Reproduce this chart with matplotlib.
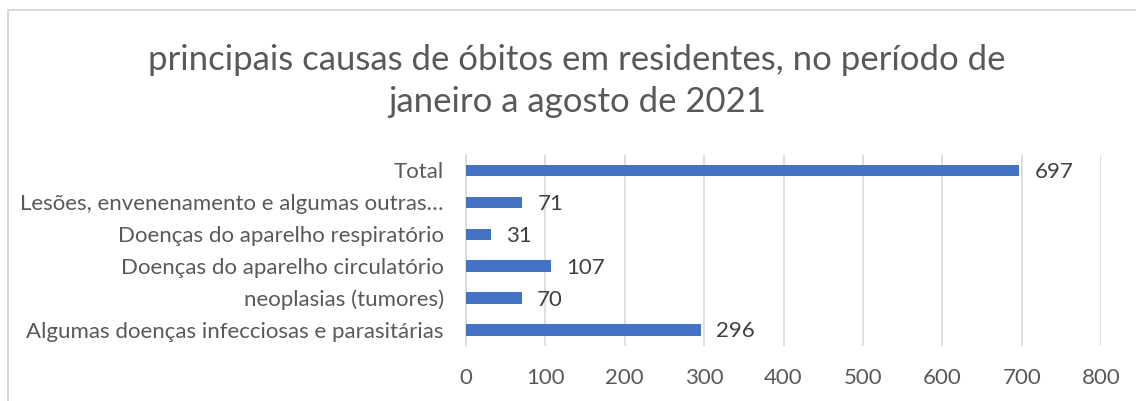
"""Principais causas de óbitos - barras horizontais."""

import matplotlib.pyplot as plt
from matplotlib.patches import Rectangle

# dados
categorias = [
    'Algumas doenças infecciosas e parasitárias',
    'neoplasias (tumores)',
    'Doenças do aparelho circulatório',
    'Doenças do aparelho respiratório',
    'Lesões, envenenamento e algumas outras…',
    'Total',
]
obitos = [296, 70, 107, 31, 71, 697]
ticks_x = [0, 100, 200, 300, 400, 500, 600, 700, 800]

azul = '#4472C4'
cinza_txt = '#595959'
cinza_grade = '#D9D9D9'

plt.rcParams['font.family'] = ['Lato', 'DejaVu Sans']

fig = plt.figure(figsize=(11.36, 4.01), dpi=100)
ax = fig.add_axes([466 / 1136, 1 - 346 / 401, 635 / 1136, 191.5 / 401])

pos = range(len(categorias))
ax.barh(pos, obitos, height=0.36, color=azul, zorder=3)
for p, v in zip(pos, obitos):
    ax.annotate(str(v), (v, p), xytext=(11, -1), textcoords='offset points',
                va='center', ha='left', fontsize=16, color='#404040')

ax.set_xlim(0, 800)
ax.set_ylim(-0.5, len(categorias) - 0.5)
ax.set_xticks(ticks_x)
ax.set_yticks(list(pos))
ax.set_yticklabels(categorias)
ax.tick_params(axis='y', length=0, labelsize=16, colors=cinza_txt, pad=16)
ax.tick_params(axis='x', length=0, labelsize=16, colors=cinza_txt, pad=16)
ax.grid(axis='x', color=cinza_grade, linewidth=1.2, zorder=0)
for s in ['top', 'right', 'bottom']:
    ax.spines[s].set_visible(False)
ax.spines['left'].set_color(cinza_grade)
ax.spines['left'].set_linewidth(1.2)

fig.text(577 / 1136, 1 - 81 / 401,
         'principais causas de óbitos em residentes, no período de\njaneiro a agosto de 2021',
         ha='center', va='center', fontsize=25, color=cinza_txt, linespacing=1.38)

# borda do gráfico (cortada à direita e embaixo)
fig.patches.append(Rectangle((8 / 1136, -0.1), 1.2, 1.1 - 10 / 401,
                             transform=fig.transFigure, fill=False,
                             edgecolor=cinza_grade, linewidth=1.5))

fig.savefig('out.png', dpi=100)
